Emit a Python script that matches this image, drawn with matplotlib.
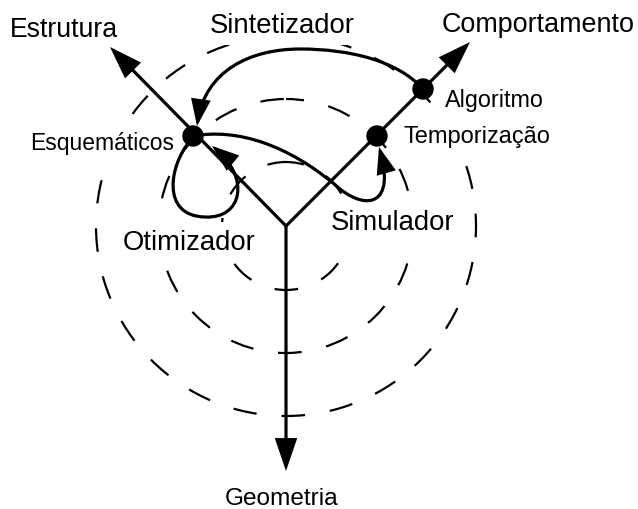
import matplotlib
matplotlib.use("Agg")
from matplotlib import pyplot as plt
from matplotlib.patches import Circle, FancyArrowPatch
from matplotlib.path import Path

plt.rcParams["font.family"] = ["Liberation Sans", "DejaVu Sans"]
plt.rcParams["lines.scale_dashes"] = False

# diagram geometry, in pixels of the 638x510 picture (y grows downwards)
center = (286, 227)
ring_radii = [64, 127, 190]

axis_names = ["Estrutura", "Comportamento", "Geometria"]
axis_tips = [(110, 48), (470, 43), (286, 472)]

node_names = ["Esquemáticos", "Temporização", "Algoritmo"]
node_xy = [(193, 137), (377, 137), (423, 90)]

# tool curves: (start, control, control, end, ...) cubic bezier points
tool_names = ["Sintetizador", "Simulador", "Otimizador"]
tool_curves = [
    [(423, 90), (398, 62), (350, 50), (300, 50),
     (250, 50), (205, 72), (197, 127)],
    [(200, 136), (250, 130), (300, 155), (340, 190),
     (368, 212), (395, 205), (379, 148)],
    [(190, 142), (170, 165), (160, 217), (205, 218),
     (243, 220), (250, 178), (212, 147)],
]

# label text, anchor (x, baseline y), alignment and size in points
labels = [
    ("Estrutura", (64, 37), "center", 19.2),
    ("Comportamento", (538, 32), "center", 19.4),
    ("Geometria", (282, 505), "center", 17.6),
    ("Sintetizador", (282, 33), "center", 19.8),
    ("Simulador", (331, 230), "left", 19.8),
    ("Otimizador", (123, 250), "left", 19.8),
    ("Esquemáticos", (30, 150), "left", 16.5),
    ("Temporização", (403, 143), "left", 17.0),
    ("Algoritmo", (445, 107), "left", 16.8),
]

fig = plt.figure(figsize=(6.38, 5.10), dpi=100)
ax = fig.add_axes([0, 0, 1, 1])
ax.set_xlim(0, 638)
ax.set_ylim(510, 0)
ax.axis("off")

for r in ring_radii:
    ax.add_patch(Circle(center, r, fill=False, color="black", lw=1.6,
                        linestyle=(4, (17, 18)), zorder=1))

for text, (x, y), ha, size in labels:
    ax.text(x, y, text, ha=ha, va="baseline", fontsize=size, color="black", zorder=2,
            bbox=dict(boxstyle="square,pad=0.25", fc="white", ec="none"))

for tip in axis_tips:
    ax.add_patch(FancyArrowPatch(center, tip, arrowstyle="-|>,head_length=19,head_width=6.5",
                                 mutation_scale=1, shrinkA=0, shrinkB=0, lw=2.3,
                                 color="black", joinstyle="miter", capstyle="butt", zorder=3))

for pts in tool_curves:
    codes = [Path.MOVETO] + [Path.CURVE4] * (len(pts) - 1)
    ax.add_patch(FancyArrowPatch(path=Path(pts, codes), arrowstyle="-|>,head_length=15,head_width=5.5",
                                 mutation_scale=1, lw=2.3, color="black",
                                 joinstyle="miter", capstyle="round", zorder=3))

for x, y in node_xy:
    ax.add_patch(Circle((x, y), 10, color="black", zorder=5))

fig.savefig("out.png", dpi=100)
